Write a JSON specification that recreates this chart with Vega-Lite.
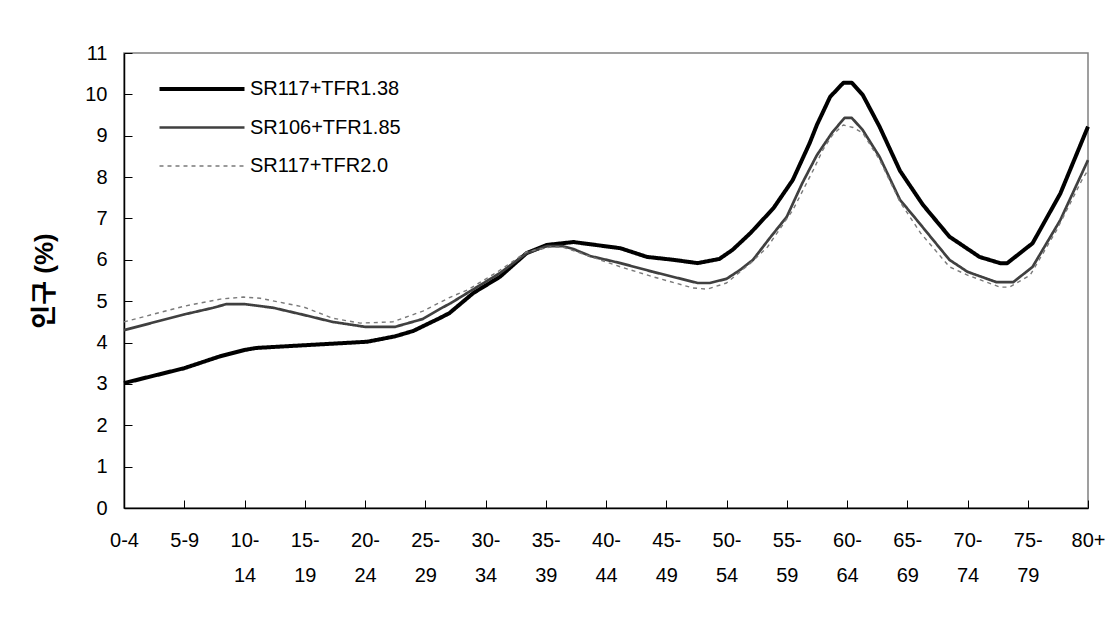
{
  "$schema": "https://vega.github.io/schema/vega-lite/v6.json",
  "width": 964,
  "height": 455,
  "autosize": {"type": "none"},
  "padding": {"left": 124, "top": 53, "right": 24, "bottom": 111},
  "background": "white",
  "config": {
    "font": "Liberation Sans",
    "view": {"stroke": "#808080", "strokeWidth": 1.5},
    "axis": {"grid": false, "domainColor": "#000000", "domainWidth": 1.5, "tickColor": "#000000", "tickWidth": 1, "labelColor": "#000000", "labelFont": "Liberation Sans", "labelFontSize": 20},
    "legend": {"orient": "none", "legendX": 66, "legendY": 24, "symbolType": "M-4.25,0L4.25,0", "symbolSize": 400, "labelOffset": 36, "labelFontSize": 20, "labelFont": "Liberation Sans", "labelColor": "#000000", "rowPadding": 17, "title": null, "symbolFillColor": "transparent"}
  },
  "data": {"values": [
    {"s": "SR117+TFR1.38", "a": 0, "v": 3.02},
    {"s": "SR117+TFR1.38", "a": 5, "v": 3.38},
    {"s": "SR117+TFR1.38", "a": 8, "v": 3.67},
    {"s": "SR117+TFR1.38", "a": 10, "v": 3.82},
    {"s": "SR117+TFR1.38", "a": 11, "v": 3.87},
    {"s": "SR117+TFR1.38", "a": 20.2, "v": 4.02},
    {"s": "SR117+TFR1.38", "a": 22.5, "v": 4.15},
    {"s": "SR117+TFR1.38", "a": 24, "v": 4.28},
    {"s": "SR117+TFR1.38", "a": 26.2, "v": 4.59},
    {"s": "SR117+TFR1.38", "a": 27, "v": 4.71},
    {"s": "SR117+TFR1.38", "a": 29, "v": 5.2},
    {"s": "SR117+TFR1.38", "a": 31.2, "v": 5.59},
    {"s": "SR117+TFR1.38", "a": 33.4, "v": 6.16},
    {"s": "SR117+TFR1.38", "a": 35.1, "v": 6.36},
    {"s": "SR117+TFR1.38", "a": 37.3, "v": 6.43},
    {"s": "SR117+TFR1.38", "a": 41.2, "v": 6.28},
    {"s": "SR117+TFR1.38", "a": 43.4, "v": 6.07},
    {"s": "SR117+TFR1.38", "a": 45.6, "v": 6.0},
    {"s": "SR117+TFR1.38", "a": 47.6, "v": 5.92},
    {"s": "SR117+TFR1.38", "a": 49.4, "v": 6.02},
    {"s": "SR117+TFR1.38", "a": 50.5, "v": 6.24},
    {"s": "SR117+TFR1.38", "a": 52, "v": 6.65},
    {"s": "SR117+TFR1.38", "a": 53.9, "v": 7.25},
    {"s": "SR117+TFR1.38", "a": 55.5, "v": 7.93},
    {"s": "SR117+TFR1.38", "a": 56.9, "v": 8.82},
    {"s": "SR117+TFR1.38", "a": 57.5, "v": 9.26},
    {"s": "SR117+TFR1.38", "a": 58.6, "v": 9.94},
    {"s": "SR117+TFR1.38", "a": 59.7, "v": 10.28},
    {"s": "SR117+TFR1.38", "a": 60.4, "v": 10.28},
    {"s": "SR117+TFR1.38", "a": 61.3, "v": 9.99},
    {"s": "SR117+TFR1.38", "a": 62.7, "v": 9.22},
    {"s": "SR117+TFR1.38", "a": 64.4, "v": 8.15},
    {"s": "SR117+TFR1.38", "a": 66.3, "v": 7.33},
    {"s": "SR117+TFR1.38", "a": 68.5, "v": 6.56},
    {"s": "SR117+TFR1.38", "a": 71, "v": 6.07},
    {"s": "SR117+TFR1.38", "a": 72.7, "v": 5.92},
    {"s": "SR117+TFR1.38", "a": 73.3, "v": 5.92},
    {"s": "SR117+TFR1.38", "a": 75.4, "v": 6.4},
    {"s": "SR117+TFR1.38", "a": 77.7, "v": 7.6},
    {"s": "SR117+TFR1.38", "a": 80, "v": 9.22},
    {"s": "SR106+TFR1.85", "a": 0, "v": 4.3},
    {"s": "SR106+TFR1.85", "a": 5, "v": 4.68},
    {"s": "SR106+TFR1.85", "a": 7.4, "v": 4.84},
    {"s": "SR106+TFR1.85", "a": 8.5, "v": 4.93},
    {"s": "SR106+TFR1.85", "a": 10, "v": 4.93},
    {"s": "SR106+TFR1.85", "a": 12.4, "v": 4.84},
    {"s": "SR106+TFR1.85", "a": 14.9, "v": 4.67},
    {"s": "SR106+TFR1.85", "a": 17.3, "v": 4.5},
    {"s": "SR106+TFR1.85", "a": 20, "v": 4.38},
    {"s": "SR106+TFR1.85", "a": 22.5, "v": 4.38},
    {"s": "SR106+TFR1.85", "a": 24.8, "v": 4.57},
    {"s": "SR106+TFR1.85", "a": 26.2, "v": 4.81},
    {"s": "SR106+TFR1.85", "a": 27.1, "v": 4.95},
    {"s": "SR106+TFR1.85", "a": 28.5, "v": 5.2},
    {"s": "SR106+TFR1.85", "a": 31.2, "v": 5.68},
    {"s": "SR106+TFR1.85", "a": 33.4, "v": 6.16},
    {"s": "SR106+TFR1.85", "a": 35.1, "v": 6.33},
    {"s": "SR106+TFR1.85", "a": 36.4, "v": 6.33},
    {"s": "SR106+TFR1.85", "a": 37.3, "v": 6.26},
    {"s": "SR106+TFR1.85", "a": 38.7, "v": 6.09},
    {"s": "SR106+TFR1.85", "a": 41.2, "v": 5.92},
    {"s": "SR106+TFR1.85", "a": 43.9, "v": 5.71},
    {"s": "SR106+TFR1.85", "a": 47.6, "v": 5.44},
    {"s": "SR106+TFR1.85", "a": 48.6, "v": 5.44},
    {"s": "SR106+TFR1.85", "a": 50, "v": 5.54},
    {"s": "SR106+TFR1.85", "a": 51.1, "v": 5.75},
    {"s": "SR106+TFR1.85", "a": 52.2, "v": 6.0},
    {"s": "SR106+TFR1.85", "a": 53.6, "v": 6.53},
    {"s": "SR106+TFR1.85", "a": 55, "v": 7.04},
    {"s": "SR106+TFR1.85", "a": 56.3, "v": 7.86},
    {"s": "SR106+TFR1.85", "a": 57.5, "v": 8.53},
    {"s": "SR106+TFR1.85", "a": 58.8, "v": 9.09},
    {"s": "SR106+TFR1.85", "a": 59.8, "v": 9.43},
    {"s": "SR106+TFR1.85", "a": 60.4, "v": 9.43},
    {"s": "SR106+TFR1.85", "a": 61.3, "v": 9.14},
    {"s": "SR106+TFR1.85", "a": 62.7, "v": 8.49},
    {"s": "SR106+TFR1.85", "a": 64.4, "v": 7.45},
    {"s": "SR106+TFR1.85", "a": 65.8, "v": 6.96},
    {"s": "SR106+TFR1.85", "a": 68.5, "v": 6.0},
    {"s": "SR106+TFR1.85", "a": 70, "v": 5.71},
    {"s": "SR106+TFR1.85", "a": 72.4, "v": 5.46},
    {"s": "SR106+TFR1.85", "a": 73.8, "v": 5.46},
    {"s": "SR106+TFR1.85", "a": 75.4, "v": 5.83},
    {"s": "SR106+TFR1.85", "a": 77.7, "v": 6.96},
    {"s": "SR106+TFR1.85", "a": 80, "v": 8.41},
    {"s": "SR117+TFR2.0", "a": 0, "v": 4.5},
    {"s": "SR117+TFR2.0", "a": 5, "v": 4.88},
    {"s": "SR117+TFR2.0", "a": 8, "v": 5.05},
    {"s": "SR117+TFR2.0", "a": 9.9, "v": 5.1},
    {"s": "SR117+TFR2.0", "a": 11.3, "v": 5.07},
    {"s": "SR117+TFR2.0", "a": 14.9, "v": 4.86},
    {"s": "SR117+TFR2.0", "a": 17.3, "v": 4.59},
    {"s": "SR117+TFR2.0", "a": 19.6, "v": 4.47},
    {"s": "SR117+TFR2.0", "a": 22.3, "v": 4.5},
    {"s": "SR117+TFR2.0", "a": 24.8, "v": 4.76},
    {"s": "SR117+TFR2.0", "a": 27.1, "v": 5.1},
    {"s": "SR117+TFR2.0", "a": 28.5, "v": 5.27},
    {"s": "SR117+TFR2.0", "a": 31, "v": 5.71},
    {"s": "SR117+TFR2.0", "a": 33.4, "v": 6.19},
    {"s": "SR117+TFR2.0", "a": 35.4, "v": 6.31},
    {"s": "SR117+TFR2.0", "a": 36.4, "v": 6.31},
    {"s": "SR117+TFR2.0", "a": 38.1, "v": 6.14},
    {"s": "SR117+TFR2.0", "a": 41.2, "v": 5.83},
    {"s": "SR117+TFR2.0", "a": 43.9, "v": 5.59},
    {"s": "SR117+TFR2.0", "a": 47.2, "v": 5.32},
    {"s": "SR117+TFR2.0", "a": 48.4, "v": 5.29},
    {"s": "SR117+TFR2.0", "a": 50, "v": 5.44},
    {"s": "SR117+TFR2.0", "a": 52, "v": 5.92},
    {"s": "SR117+TFR2.0", "a": 53.4, "v": 6.31},
    {"s": "SR117+TFR2.0", "a": 55.5, "v": 7.2},
    {"s": "SR117+TFR2.0", "a": 57.2, "v": 8.17},
    {"s": "SR117+TFR2.0", "a": 58, "v": 8.66},
    {"s": "SR117+TFR2.0", "a": 58.8, "v": 9.02},
    {"s": "SR117+TFR2.0", "a": 59.7, "v": 9.26},
    {"s": "SR117+TFR2.0", "a": 60.5, "v": 9.2},
    {"s": "SR117+TFR2.0", "a": 61.3, "v": 9.07},
    {"s": "SR117+TFR2.0", "a": 62.7, "v": 8.42},
    {"s": "SR117+TFR2.0", "a": 64.4, "v": 7.4},
    {"s": "SR117+TFR2.0", "a": 66.1, "v": 6.65},
    {"s": "SR117+TFR2.0", "a": 68.5, "v": 5.83},
    {"s": "SR117+TFR2.0", "a": 70, "v": 5.63},
    {"s": "SR117+TFR2.0", "a": 72.7, "v": 5.34},
    {"s": "SR117+TFR2.0", "a": 73.5, "v": 5.34},
    {"s": "SR117+TFR2.0", "a": 75.2, "v": 5.63},
    {"s": "SR117+TFR2.0", "a": 77.4, "v": 6.72},
    {"s": "SR117+TFR2.0", "a": 79.5, "v": 7.93},
    {"s": "SR117+TFR2.0", "a": 80, "v": 8.17}
  ]},
  "mark": {"type": "line", "strokeJoin": "round"},
  "encoding": {
    "x": {
      "field": "a", "type": "quantitative",
      "scale": {"domain": [0, 80], "nice": false, "zero": false},
      "axis": {
        "title": null,
        "values": [0, 5, 10, 15, 20, 25, 30, 35, 40, 45, 50, 55, 60, 65, 70, 75, 80],
        "labelExpr": "datum.value == 0 ? '0-4' : datum.value == 5 ? '5-9' : datum.value == 80 ? '80+' : [datum.value + '-', '' + (datum.value + 4)]",
        "labelFlush": false,
        "labelOverlap": false,
        "labelBaseline": "top",
        "labelLineHeight": 35,
        "tickSize": -8,
        "labelPadding": 30
      }
    },
    "y": {
      "field": "v", "type": "quantitative",
      "scale": {"domain": [0, 11], "nice": false},
      "axis": {
        "title": "인구 (%)",
        "values": [0, 1, 2, 3, 4, 5, 6, 7, 8, 9, 10, 11],
        "tickSize": -8,
        "labelPadding": 25,
        "titleFont": "Liberation Sans, Noto Sans CJK KR",
        "titleFontSize": 26,
        "titleFontWeight": "bold",
        "titleColor": "#000000",
        "titlePadding": 27
      }
    },
    "color": {
      "field": "s", "type": "nominal",
      "scale": {"domain": ["SR117+TFR1.38", "SR106+TFR1.85", "SR117+TFR2.0"], "range": ["#000000", "#404040", "#7a7a7a"]}
    },
    "strokeWidth": {
      "field": "s", "type": "nominal",
      "scale": {"domain": ["SR117+TFR1.38", "SR106+TFR1.85", "SR117+TFR2.0"], "range": [4, 1.4, 2.5]}
    },
    "strokeDash": {
      "field": "s", "type": "nominal",
      "scale": {"domain": ["SR117+TFR1.38", "SR106+TFR1.85", "SR117+TFR2.0"], "range": [[1, 0], [1, 0], [4, 4]]}
    }
  }
}
